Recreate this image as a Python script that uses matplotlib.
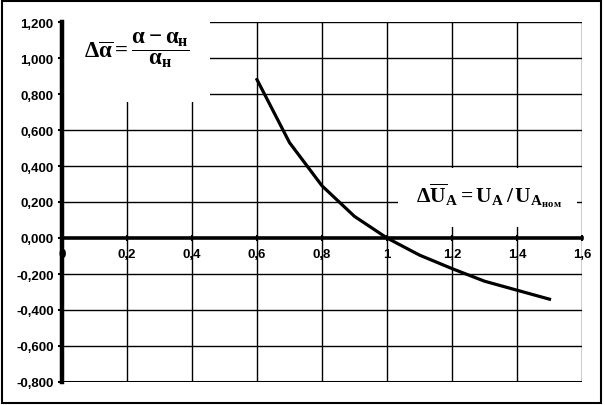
import matplotlib
matplotlib.use("Agg")
import numpy as np
from matplotlib import pyplot as plt
from matplotlib.patches import Rectangle

# curve
x_vals = [0.6, 0.7, 0.8, 0.9, 1.0, 1.1, 1.2, 1.3, 1.4, 1.5]
y_vals = [0.88, 0.53, 0.29, 0.12, 0.0, -0.095, -0.17, -0.24, -0.29, -0.34]

x_ticks = [0, 0.2, 0.4, 0.6, 0.8, 1.0, 1.2, 1.4, 1.6]
x_labels = ["0", "0,2", "0,4", "0,6", "0,8", "1", "1,2", "1,4", "1,6"]
y_ticks = [-0.8, -0.6, -0.4, -0.2, 0.0, 0.2, 0.4, 0.6, 0.8, 1.0, 1.2]
y_labels = ["-0,800", "-0,600", "-0,400", "-0,200", "0,000", "0,200",
            "0,400", "0,600", "0,800", "1,000", "1,200"]

formula1 = r"$\Delta\overline{\alpha} = \dfrac{\alpha - \alpha_{\mathrm{н}}}{\alpha_{\mathrm{н}}}$"
formula2 = r"$\Delta\overline{\mathrm{U}}_{\mathrm{A}} = \mathrm{U}_{\mathrm{A}}\,/\,\mathrm{U}_{\mathrm{A}_{\mathrm{ном}}}$"

plt.rcParams["font.family"] = ["Liberation Sans", "DejaVu Sans"]
plt.rcParams["mathtext.fontset"] = "custom"
plt.rcParams["mathtext.rm"] = "Liberation Serif:bold"
plt.rcParams["mathtext.it"] = "Liberation Serif:bold"
plt.rcParams["mathtext.bf"] = "Liberation Serif:bold"

fig = plt.figure(figsize=(6.05, 4.06), dpi=100)
ax = fig.add_axes([62 / 605, 1 - 383 / 406, 520 / 605, 360 / 406])
ax.set_xlim(0, 1.6)
ax.set_ylim(-0.8, 1.2)
ax.set_axisbelow(True)

# grid drawn by hand so it sits over the tick labels like the scan
for xv in x_ticks[1:]:
    ax.axvline(xv, color="black", lw=1.0, zorder=2)
for yv in y_ticks:
    if yv != 0:
        ax.axhline(yv, color="black", lw=1.0, zorder=2)
ax.axhline(-0.8, color="black", lw=2.2, zorder=2)

# white boxes behind the formulas
ax.add_patch(Rectangle((0, 0.755), 0.455, 0.445, facecolor="white",
                       edgecolor="none", zorder=3))
ax.add_patch(Rectangle((1.035, 0.06), 0.55, 0.33, facecolor="white",
                       edgecolor="none", zorder=3))

ax.plot(x_vals, y_vals, color="black", lw=2.3, zorder=4)

for s in ["top", "right"]:
    ax.spines[s].set_visible(False)
ax.spines["left"].set_linewidth(3.2)
ax.spines["left"].set_zorder(5)
ax.spines["bottom"].set_position(("data", 0))
ax.spines["bottom"].set_linewidth(2.6)
ax.spines["bottom"].set_zorder(5)

ax.set_xticks(x_ticks)
ax.set_xticklabels(x_labels, fontsize=9.5, fontweight="bold")
ax.tick_params(axis="x", direction="inout", length=5, width=1.5, pad=5)
ax.set_yticks(y_ticks)
ax.set_yticklabels(y_labels, fontsize=9.5, fontweight="bold")
ax.tick_params(axis="y", direction="out", length=3, width=1.5, pad=3)

ax.text(0.231, 1.05, formula1, fontsize=16.5, ha="center", va="center", zorder=6)
ax.text(1.314, 0.24, formula2, fontsize=15.5, ha="center", va="center", zorder=6)

# outer frame
fig.add_artist(Rectangle((0.004, 0.006), 0.99, 0.99, transform=fig.transFigure,
                         fill=False, edgecolor="black", lw=1.5))

fig.savefig("out.png", dpi=100)
